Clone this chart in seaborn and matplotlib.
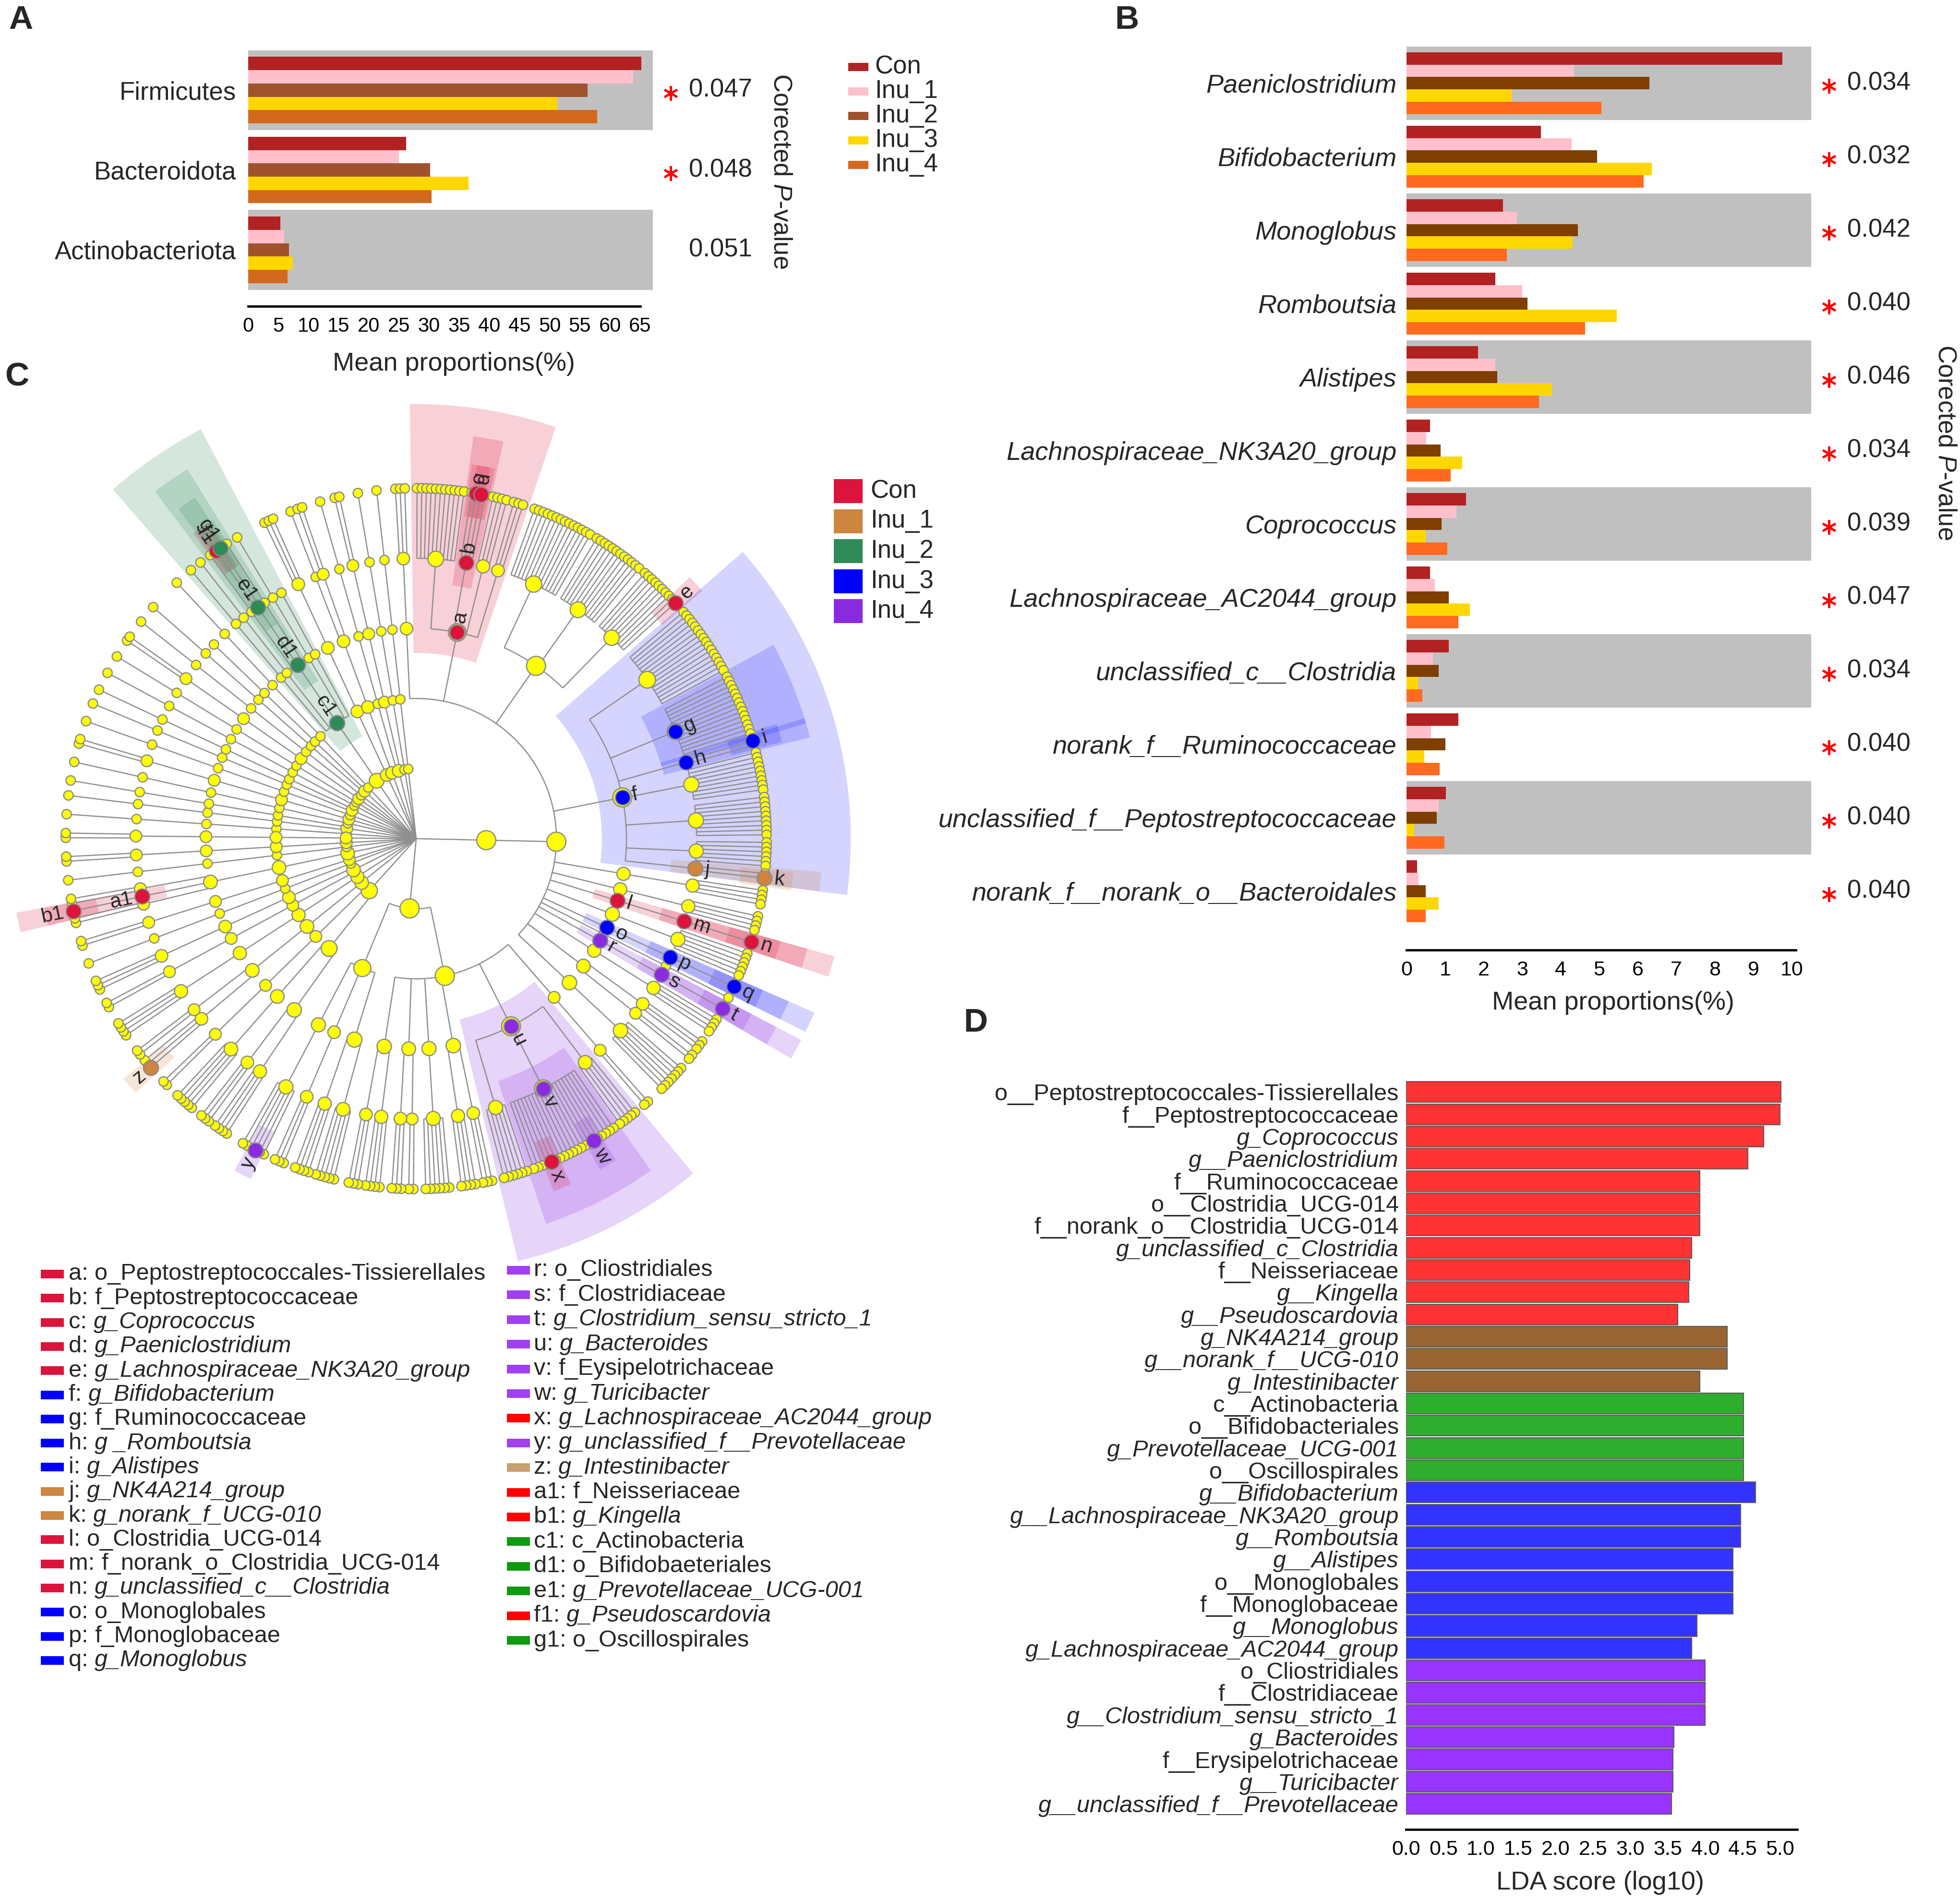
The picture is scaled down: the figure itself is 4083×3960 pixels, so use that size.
import numpy as np
import pandas as pd
import matplotlib
matplotlib.use('Agg')
import matplotlib.pyplot as plt
import matplotlib.transforms as mtransforms
from matplotlib.patches import Wedge, Rectangle
from matplotlib.collections import LineCollection
import seaborn as sns

sns.set_style('white')
plt.rcParams['font.family'] = ['Liberation Sans', 'DejaVu Sans']
plt.rcParams['mathtext.fontset'] = 'custom'
plt.rcParams['mathtext.rm'] = 'Liberation Sans'
plt.rcParams['mathtext.it'] = 'Liberation Sans:italic'

W, H = 4083, 3960

# ------------------------------------------------------------------ data
groups = ['Con', 'Inu_1', 'Inu_2', 'Inu_3', 'Inu_4']

# Panel A (phylum level)
phyla_A = ['Firmicutes', 'Bacteroidota', 'Actinobacteriota']
con_A = [65.2, 26.2, 5.3]
inu1_A = [63.8, 25.0, 6.0]
inu2_A = [56.3, 30.2, 6.8]
inu3_A = [51.3, 36.5, 7.4]
inu4_A = [57.9, 30.4, 6.5]
pval_A = ['0.047', '0.048', '0.051']
sig_A = [True, True, False]

# Panel B (genus level)
genera_B = ['Paeniclostridium', 'Bifidobacterium', 'Monoglobus', 'Romboutsia',
            'Alistipes', 'Lachnospiraceae_NK3A20_group', 'Coprococcus',
            'Lachnospiraceae_AC2044_group', 'unclassified_c__Clostridia',
            'norank_f__Ruminococcaceae', 'unclassified_f__Peptostreptococcaceae',
            'norank_f__norank_o__Bacteroidales']
con_B = [9.75, 3.49, 2.50, 2.30, 1.85, 0.61, 1.55, 0.61, 1.09, 1.34, 1.02, 0.28]
inu1_B = [4.35, 4.28, 2.86, 3.00, 2.31, 0.51, 1.29, 0.73, 0.68, 0.63, 0.84, 0.31]
inu2_B = [6.30, 4.94, 4.45, 3.14, 2.36, 0.89, 0.91, 1.09, 0.83, 1.01, 0.78, 0.50]
inu3_B = [2.73, 6.36, 4.31, 5.45, 3.77, 1.45, 0.50, 1.65, 0.30, 0.46, 0.20, 0.83]
inu4_B = [5.06, 6.15, 2.60, 4.63, 3.44, 1.14, 1.06, 1.34, 0.41, 0.86, 0.99, 0.50]
pval_B = ['0.034', '0.032', '0.042', '0.040', '0.046', '0.034',
          '0.039', '0.047', '0.034', '0.040', '0.040', '0.040']

# Panel D (LEfSe LDA)
taxa_D = ['o__Peptostreptococcales-Tissierellales', 'f__Peptostreptococcaceae',
          'g_Coprococcus', 'g__Paeniclostridium', 'f__Ruminococcaceae',
          'o__Clostridia_UCG-014', 'f__norank_o__Clostridia_UCG-014',
          'g_unclassified_c_Clostridia', 'f__Neisseriaceae', 'g__Kingella',
          'g__Pseudoscardovia', 'g_NK4A214_group', 'g__norank_f__UCG-010',
          'g_Intestinibacter', 'c__Actinobacteria', 'o__Bifidobacteriales',
          'g_Prevotellaceae_UCG-001', 'o__Oscillospirales', 'g__Bifidobacterium',
          'g__Lachnospiraceae_NK3A20_group', 'g__Romboutsia', 'g__Alistipes',
          'o__Monoglobales', 'f__Monoglobaceae', 'g__Monoglobus',
          'g_Lachnospiraceae_AC2044_group', 'o_Cliostridiales', 'f__Clostridiaceae',
          'g__Clostridium_sensu_stricto_1', 'g_Bacteroides', 'f__Erysipelotrichaceae',
          'g__Turicibacter', 'g__unclassified_f__Prevotellaceae']
lda_D = [5.01, 5.00, 4.78, 4.57, 3.93, 3.93, 3.93, 3.82, 3.79, 3.78, 3.63,
         4.29, 4.29, 3.93, 4.51, 4.51, 4.51, 4.51, 4.67, 4.47, 4.47, 4.37,
         4.37, 4.37, 3.89, 3.82, 4.00, 4.00, 4.00, 3.58, 3.57, 3.57, 3.55]
group_D = ['Con'] * 11 + ['Inu_1'] * 3 + ['Inu_2'] * 4 + ['Inu_3'] * 8 + ['Inu_4'] * 7

# Panel C cladogram: phylum -> class -> order -> family (int = number of genera)
left_sparse = [
    [[[1]]], [[[1]], [[1]]], [[[1]]], [[[2]]], [[[1]]], [[[1]], [[1]]],
    [[[1]]], [[[1]]], [[[2]]], [[[1]]], [[[1]], [[0]]], [[[1]]],
]
actino = [[[1], [1], [1, 2, 1], [1], [0]]]
mid = [[[[3]]], [[[1, 2]]], [[[1]], [[2]]], [[[1]]], [[[1]]]]
firmicutes = [[[3], [11, 4, 4, 3], [14, 12, 10], [16, 14, 2, 9, 9, 6, 2],
               [4], [4], [1], [6], [1], [1], [1], [4], [3, 2], [7]]]
bacteroidota = [[[2], [5, 20, 6], [3, 4], [6], [2, 3], [4, 3]],
                [[5, 4], [3], [6]]]
bottom = [[[[4, 3], [5]], [[2]]], [[[3, 2]]], [[[4]]], [[[2]], [[3]]],
          [[[1]]], [[[2]]], [[[2, 1, 2]]], [[[1]]], [[[2]]], [[[2]]]]
tree_C = left_sparse + [actino] + mid + [firmicutes] + [bacteroidota] + bottom

ACT = len(left_sparse)
FIR = ACT + 1 + len(mid)
BAC = FIR + 1
BOT = BAC + 1
biomarkers_C = [
    ('a', (FIR, 0, 1), 'Con'), ('b', (FIR, 0, 1, 1), 'Con'),
    ('c', (FIR, 0, 1, 1, 1), 'Con'), ('d', (FIR, 0, 1, 1, 2), 'Con'),
    ('e', (FIR, 0, 2, 2, 9), 'Con'),
    ('f', (FIR, 0, 3), 'Inu_3'), ('g', (FIR, 0, 3, 1), 'Inu_3'),
    ('h', (FIR, 0, 3, 2), 'Inu_3'), ('i', (FIR, 0, 3, 2, 0), 'Inu_3'),
    ('j', (FIR, 0, 3, 6), 'Inu_1'), ('k', (FIR, 0, 3, 6, 1), 'Inu_1'),
    ('l', (FIR, 0, 6), 'Con'), ('m', (FIR, 0, 6, 0), 'Con'), ('n', (FIR, 0, 6, 0, 0), 'Con'),
    ('o', (FIR, 0, 8), 'Inu_3'), ('p', (FIR, 0, 8, 0), 'Inu_3'), ('q', (FIR, 0, 8, 0, 0), 'Inu_3'),
    ('r', (FIR, 0, 10), 'Inu_4'), ('s', (FIR, 0, 10, 0), 'Inu_4'), ('t', (FIR, 0, 10, 0, 0), 'Inu_4'),
    ('u', (BAC, 0, 1), 'Inu_4'), ('v', (BAC, 0, 1, 1), 'Inu_4'),
    ('w', (BAC, 0, 1, 1, 5), 'Inu_4'), ('x', (BAC, 0, 1, 1, 15), 'Con'),
    ('y', (BAC, 1, 2, 0, 2), 'Inu_4'),
    ('z', (BOT + 1, 0, 0, 0, 0), 'Inu_1'),
    ('a1', (BOT + 6, 0, 0, 1), 'Con'), ('b1', (BOT + 6, 0, 0, 1, 0), 'Con'),
    ('c1', (ACT, 0), 'Inu_2'), ('d1', (ACT, 0, 2), 'Inu_2'), ('e1', (ACT, 0, 2, 1), 'Inu_2'),
    ('f1', (ACT, 0, 2, 1, 0), 'Con'), ('g1', (ACT, 0, 2, 1, 1), 'Inu_2'),
]

legend_keys_C = ['a', 'b', 'c', 'd', 'e', 'f', 'g', 'h', 'i', 'j', 'k', 'l', 'm', 'n', 'o', 'p', 'q',
                 'r', 's', 't', 'u', 'v', 'w', 'x', 'y', 'z', 'a1', 'b1', 'c1', 'd1', 'e1', 'f1', 'g1']
legend_names_C = ['o_Peptostreptococcales-Tissierellales', 'f_Peptostreptococcaceae',
                  'g_Coprococcus', 'g_Paeniclostridium', 'g_Lachnospiraceae_NK3A20_group',
                  'g_Bifidobacterium', 'f_Ruminococcaceae', 'g _Romboutsia', 'g_Alistipes',
                  'g_NK4A214_group', 'g_norank_f_UCG-010', 'o_Clostridia_UCG-014',
                  'f_norank_o_Clostridia_UCG-014', 'g_unclassified_c__Clostridia',
                  'o_Monoglobales', 'f_Monoglobaceae', 'g_Monoglobus',
                  'o_Cliostridiales', 'f_Clostridiaceae', 'g_Clostridium_sensu_stricto_1',
                  'g_Bacteroides', 'f_Eysipelotrichaceae', 'g_Turicibacter',
                  'g_Lachnospiraceae_AC2044_group', 'g_unclassified_f__Prevotellaceae',
                  'g_Intestinibacter', 'f_Neisseriaceae', 'g_Kingella', 'c_Actinobacteria',
                  'o_Bifidobaeteriales', 'g_Prevotellaceae_UCG-001', 'g_Pseudoscardovia',
                  'o_Oscillospirales']
legend_cols_C = (['#DC143C'] * 5 + ['#0000FF'] * 4 + ['#CD853F'] * 2 + ['#DC143C'] * 3 +
                 ['#0000FF'] * 3 + ['#A040F0'] * 6 + ['#FF0000', '#A040F0', '#C8A070',
                 '#FF0000', '#FF0000', '#119911', '#119911', '#119911', '#FF0000', '#119911'])

# ------------------------------------------------------------------ styles
pal_A = ['#B22222', '#FFC0CB', '#A0522D', '#FFD700', '#D2691E']
pal_B = ['#B22222', '#FFC0CB', '#7F3F00', '#FFD700', '#FF6A20']
pal_D = {'Con': '#FF3333', 'Inu_1': '#996633', 'Inu_2': '#2EAE2E',
         'Inu_3': '#3333FF', 'Inu_4': '#9933FF'}
pal_C = {'Con': '#DC143C', 'Inu_1': '#CD853F', 'Inu_2': '#2E8B57',
         'Inu_3': '#0000FF', 'Inu_4': '#8A2BE2'}
BAND = '#C0C0C0'

fig = plt.figure(figsize=(W / 100, H / 100), dpi=100)


def fax(left, top, right, bottom):
    return fig.add_axes([left / W, 1 - bottom / H, (right - left) / W, (bottom - top) / H])


def style_axes(ax, bound, ticks, ticklabels, tick_fs, ylab_fs, ypad, xlabel, lab_xy, italic=False):
    for s in ['top', 'right', 'left']:
        ax.spines[s].set_visible(False)
    ax.spines['bottom'].set_bounds(0, bound)
    ax.spines['bottom'].set_linewidth(3.5)
    ax.spines['bottom'].set_color('black')
    ax.set_xticks(ticks)
    ax.set_xticklabels(ticklabels)
    ax.tick_params(axis='x', direction='in', length=10, width=2.2, pad=16,
                   labelsize=tick_fs, colors='black')
    ax.tick_params(axis='y', length=0, pad=ypad, labelsize=ylab_fs)
    if italic:
        for t in ax.get_yticklabels():
            t.set_fontstyle('italic')
    ax.set_ylabel('')
    ax.set_xlabel(xlabel, fontsize=39)
    ax.xaxis.set_label_coords(*lab_xy)
    ax.xaxis.label.set_va('center')
    ax.grid(False)


def pvalue_column(ax, pvals, sigs, ylab_center):
    tr = mtransforms.blended_transform_factory(ax.transAxes, ax.transData)
    for i, (p, s) in enumerate(zip(pvals, sigs)):
        ax.text(1.089, i, p, transform=tr, va='center', ha='left', fontsize=38)
        if s:
            ax.plot([1.044], [i + 0.04], transform=tr, marker=(6, 2, 0), ms=22, mew=3.2,
                    color='red', linestyle='none', clip_on=False)
    ax.text(ylab_center[0], ylab_center[1], 'Corected $\\it{P}$-value', transform=ax.transAxes,
            rotation=-90, va='center', ha='center', fontsize=38)


# ------------------------------------------------------------------ panel A
axA = fax(517, 104.6, 1360, 638)
for i in range(len(phyla_A)):
    if i % 2 == 0:
        axA.axhspan(i - 0.5, i + 0.5, color=BAND, lw=0, zorder=0)
dfA = pd.DataFrame({'taxon': phyla_A * 5,
                    'group': np.repeat(groups, len(phyla_A)),
                    'value': con_A + inu1_A + inu2_A + inu3_A + inu4_A})
sns.barplot(data=dfA, x='value', y='taxon', hue='group', order=phyla_A, hue_order=groups,
            palette=pal_A, orient='h', width=0.833, saturation=1, linewidth=0,
            errorbar=None, legend=False, ax=axA, zorder=2)
axA.set_xlim(0, 67.1)
axA.set_ylim(2.707, -0.5)
style_axes(axA, 65, np.arange(0, 66, 5), [str(v) for v in range(0, 66, 5)], 30, 38, 18,
           'Mean proportions(%)', (0.508, -0.225))
pvalue_column(axA, pval_A, sig_A, (1.316, 0.527))

# ------------------------------------------------------------------ panel B
axB = fax(2930, 96.8, 3773, 1979)
for i in range(len(genera_B)):
    if i % 2 == 0:
        axB.axhspan(i - 0.5, i + 0.5, color=BAND, lw=0, zorder=0)
dfB = pd.DataFrame({'taxon': genera_B * 5,
                    'group': np.repeat(groups, len(genera_B)),
                    'value': con_B + inu1_B + inu2_B + inu3_B + inu4_B})
sns.barplot(data=dfB, x='value', y='taxon', hue='group', order=genera_B, hue_order=groups,
            palette=pal_B, orient='h', width=0.84, saturation=1, linewidth=0,
            errorbar=None, legend=False, ax=axB, zorder=2)
axB.set_xlim(0, 10.5)
axB.set_ylim(11.80, -0.5)
style_axes(axB, 10.1, np.arange(0, 11, 1), [str(v) for v in range(0, 11)], 31, 39, 15,
           'Mean proportions(%)', (0.511, -0.0584), italic=True)
pvalue_column(axB, pval_B, [True] * len(pval_B), (1.331, 0.5616))

# ------------------------------------------------------------------ panel D
axD = fax(2929, 2251.6, 3744, 3811)
dfD = pd.DataFrame({'taxon': taxa_D, 'lda': lda_D, 'group': group_D})
sns.barplot(data=dfD, x='lda', y='taxon', hue='group', order=taxa_D, hue_order=groups,
            palette=pal_D, orient='h', dodge=False, width=0.93, saturation=1,
            edgecolor='#5a5a5a', linewidth=1.5, errorbar=None, legend=False, ax=axD)
axD.set_xlim(0, 5.23)
axD.set_ylim(33.15, -0.5)
style_axes(axD, 5.23, np.arange(0, 5.01, 0.5), ['%.1f' % v for v in np.arange(0, 5.01, 0.5)],
           31, 35, 11, 'LDA score (log10)', (0.496, -0.0712))
for t in axD.get_yticklabels():
    if t.get_text().startswith('g'):
        t.set_fontstyle('italic')

# ------------------------------------------------------------------ panel C (cladogram)
GAP = {1: 3.0, 2: 2.2, 3: 1.6, 4: 0.6, 5: 0.0}
START = 176.0
nodes = {}
cursor = [0.0]


def walk(node, depth, path):
    if depth == 5:
        kids = []
    elif depth == 4:
        kids = [None] * node
    else:
        kids = list(node)
    rec = {'depth': depth, 'children': []}
    nodes[path] = rec
    if not kids:
        rec['pos'] = rec['lo'] = rec['hi'] = cursor[0]
        rec['n'] = 1
        cursor[0] += 1.0
        return rec
    ch = []
    for i, k in enumerate(kids):
        if i > 0:
            cursor[0] += GAP[depth + 1]
        ch.append(walk(k, depth + 1, path + (i,)))
    rec['children'] = ch
    rec['pos'] = float(np.mean([c['pos'] for c in ch]))
    rec['lo'], rec['hi'] = ch[0]['lo'], ch[-1]['hi']
    rec['n'] = sum(c['n'] for c in ch)
    return rec


walk(tree_C, 0, ())
U = cursor[0] + GAP[1]
DEG = 360.0 / U


def ang(p):
    return START - p * DEG


def xy(r, a):
    t = np.radians(a)
    return r * np.cos(t), r * np.sin(t)


R = 146.0
axC = fig.add_axes([0, 1 - 2680 / H, 1950 / W, (2680 - 780) / H])
axC.set_xlim(-867 / R, (1950 - 867) / R)
axC.set_ylim(-(2680 - 1747) / R, (1747 - 780) / R)
axC.axis('off')

# shaded clades
for lab, path, grp in biomarkers_C:
    rec = nodes[path]
    k = rec['depth']
    r_in = k - 0.35
    r_out = 5.0 + 0.4 * (6 - k)
    half = max((rec['hi'] - rec['lo']) / 2 * DEG + 0.5 * DEG + 0.6, 1.4)
    c = ang(0.5 * (rec['lo'] + rec['hi']))
    axC.add_patch(Wedge((0, 0), r_out, c - half, c + half, width=r_out - r_in,
                        facecolor=pal_C[grp], alpha=0.17 if grp == 'Inu_3' else 0.2,
                        lw=0, zorder=1))

# branches
segs = []
for path, rec in nodes.items():
    ch = rec['children']
    if not ch:
        continue
    r0 = rec['depth']
    if r0 > 0 and len(ch) > 1:
        a0, a1 = ang(ch[0]['pos']), ang(ch[-1]['pos'])
        npts = max(2, int(abs(a1 - a0)) + 2)
        tt = np.linspace(a0, a1, npts)
        segs.append(np.column_stack(xy(r0, tt)))
    for c in ch:
        a = ang(c['pos'])
        segs.append([xy(r0, a), xy(c['depth'], a)])
axC.add_collection(LineCollection(segs, colors='#8F8F8F', linewidths=1.8, zorder=2))

# yellow nodes (size grows with the number of genera below the node)
pts = [(xy(rec['depth'], ang(rec['pos'])), rec['n']) for p, rec in nodes.items() if rec['depth'] > 0]
px = [p[0][0] for p in pts]
py = [p[0][1] for p in pts]
ps = [min(200 + 110 * np.sqrt(p[1] - 1), 820) for p in pts]
axC.scatter(px, py, s=ps, c='#FFFF00', edgecolors='#8A8A8A', linewidths=1.8, zorder=3)

# biomarker nodes & labels
for lab, path, grp in biomarkers_C:
    rec = nodes[path]
    k = rec['depth']
    a = ang(rec['pos'])
    x0, y0 = xy(k, a)
    axC.scatter([x0], [y0], s=500, c=pal_C[grp], edgecolors='#8A8A8A', linewidths=1.8, zorder=4)
    lx, ly = xy(k + 0.14, a)
    if np.cos(np.radians(a)) >= 0:
        rot, ha = a, 'left'
    else:
        rot, ha = a - 180, 'right'
    axC.text(lx, ly, lab, rotation=rot, rotation_mode='anchor', ha=ha, va='center',
             fontsize=31, zorder=5)

# ------------------------------------------------------------------ overlay: letters & legends
ov = fig.add_axes([0, 0, 1, 1])
ov.set_xlim(0, W)
ov.set_ylim(H, 0)
ov.axis('off')
for letter, (lx, ly) in zip('ABCD', [(18, 10), (2322, 10), (10, 753), (2007, 2099)]):
    ov.text(lx, ly, letter, fontsize=50, fontweight='bold', va='top', ha='left')

# legend of panel A
for i, g in enumerate(groups):
    yc = 139 + 51 * i
    ov.add_patch(Rectangle((1767, yc - 8.5), 42, 17, color=pal_A[i], lw=0))
    ov.text(1822, yc, g, va='center', ha='left', fontsize=38)

# legend of panel C cladogram
for i, g in enumerate(groups):
    yc = 1023 + 62.5 * i
    ov.add_patch(Rectangle((1737, yc - 25), 60, 50, color=pal_C[g], lw=0))
    ov.text(1813, yc, g, va='center', ha='left', fontsize=38)

# key list of panel C
for i, (key, name, col) in enumerate(zip(legend_keys_C, legend_names_C, legend_cols_C)):
    if i < 17:
        x_r, x_t, yc = 85, 143, 2654 + 50.3 * i
    else:
        x_r, x_t, yc = 1056, 1112, 2646 + 51.4 * (i - 17)
    ov.add_patch(Rectangle((x_r, yc - 9), 48, 18, color=col, lw=0))
    t1 = ov.text(x_t, yc, key + ': ', va='center', ha='left', fontsize=35)
    ov.annotate(name, xy=(1, 0), xycoords=t1, va='bottom', ha='left', fontsize=35,
                fontstyle='italic' if name.startswith('g') else 'normal')

fig.savefig('out.png', dpi=100)
